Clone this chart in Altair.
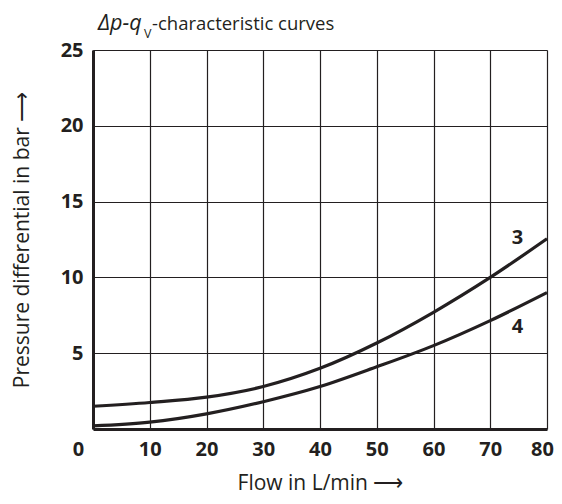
import altair as alt
import pandas as pd

flow = [0, 10, 20, 30, 40, 50, 60, 70, 80]
curve3 = [1.5, 1.75, 2.1, 2.8, 4.0, 5.67, 7.7, 10.0, 12.55]
curve4 = [0.2, 0.45, 1.0, 1.8, 2.8, 4.1, 5.5, 7.15, 9.0]
curve_names = ["3", "4"]
label_x = [74.8, 74.8]
label_y = [12.6, 6.7]

FONT = "Open Sans"
INK = "#231f20"

rows = []
for name, vals in zip(curve_names, [curve3, curve4]):
    for f, v in zip(flow, vals):
        rows.append({"flow": f, "dp": v, "curve": name})
df = pd.DataFrame(rows)
lab = pd.DataFrame({"flow": label_x, "dp": label_y, "curve": curve_names})

x_enc = alt.X(
    "flow:Q",
    scale=alt.Scale(domain=[0, 80], nice=False),
    axis=alt.Axis(
        values=[0, 10, 20, 30, 40, 50, 60, 70, 80],
        title="Flow in L/min \u27f6",
        titleFont=FONT, titleFontSize=21, titleFontWeight="normal", titleColor=INK,
        titlePadding=13,
        labelFont=FONT, labelFontSize=20, labelFontWeight="bold", labelColor=INK,
        labelPadding=10, labelFlush=False,
        labelOffset={"condition": [{"test": "datum.value == 0", "value": -15},
                                   {"test": "datum.value == 80", "value": -5}],
                     "value": 0},
        ticks=False, domainColor=INK, domainWidth=3,
        grid=True, gridColor=INK, gridWidth=1.2, gridOpacity=1,
    ),
)
y_enc = alt.Y(
    "dp:Q",
    scale=alt.Scale(domain=[0, 25], nice=False),
    axis=alt.Axis(
        values=[5, 10, 15, 20, 25],
        title="Pressure differential in bar \u27f6",
        titleFont=FONT, titleFontSize=21, titleFontWeight="normal", titleColor=INK,
        titlePadding=28,
        labelFont=FONT, labelFontSize=20, labelFontWeight="bold", labelColor=INK,
        labelPadding=10, labelFlush=False,
        ticks=False, domainColor=INK, domainWidth=3,
        grid=True, gridColor=INK, gridWidth=1.2, gridOpacity=1,
    ),
)

lines = alt.Chart(df).mark_line(
    color=INK, strokeWidth=3.2, interpolate="monotone"
).encode(x=x_enc, y=y_enc, detail="curve:N")

labels = alt.Chart(lab).mark_text(
    font=FONT, fontSize=20, fontWeight="bold", color=INK
).encode(x="flow:Q", y="dp:Q", text="curve:N")

t1 = alt.Chart(pd.DataFrame({"t": ["\u0394p-q"]})).mark_text(
    font=FONT, fontSize=21.5, fontStyle="italic", color=INK, align="left", baseline="alphabetic"
).encode(x=alt.value(5), y=alt.value(-20), text="t:N")
t2 = alt.Chart(pd.DataFrame({"t": ["V"]})).mark_text(
    font=FONT, fontSize=12.5, color=INK, align="left", baseline="alphabetic"
).encode(x=alt.value(51), y=alt.value(-12), text="t:N")
t3 = alt.Chart(pd.DataFrame({"t": ["-characteristic curves"]})).mark_text(
    font=FONT, fontSize=18.5, color=INK, align="left", baseline="alphabetic"
).encode(x=alt.value(59), y=alt.value(-20), text="t:N")

chart = alt.layer(lines, labels, t1, t2, t3).properties(
    width=454, height=379,
    autosize=alt.AutoSizeParams(type="none"),
    padding={"left": 85, "top": 42, "right": 7, "bottom": 67},
).configure_view(stroke=INK, strokeWidth=1.5).configure(background="white")

chart.save("out.html", embed_options={"renderer": "svg", "actions": False})
